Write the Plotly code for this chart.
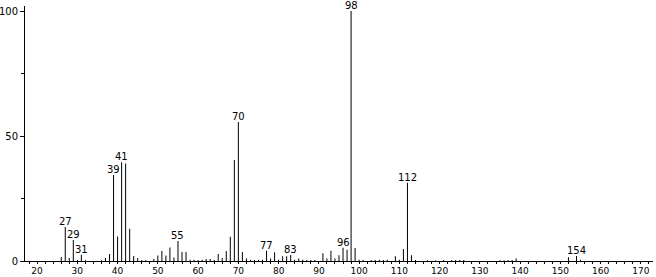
import plotly.graph_objects as go

mz = [26, 27, 28, 29, 30, 31, 32, 36, 37, 38, 39, 40, 41, 42, 43, 44, 45, 46, 47, 49,
      50, 51, 52, 53, 54, 55, 56, 57, 58, 59, 60, 61, 62, 63, 64, 65, 66, 67, 68, 69,
      70, 71, 72, 73, 74, 75, 76, 77, 78, 79, 80, 81, 82, 83, 84, 85, 86, 87, 88, 89,
      91, 92, 93, 94, 95, 96, 97, 98, 99, 100, 101, 103, 104, 105, 106, 107, 109, 110,
      111, 112, 113, 114, 117, 119, 121, 123, 124, 125, 126, 135, 136, 137, 138, 139,
      152, 154, 155]
intensity = [1.6, 13.6, 1.2, 8.4, 0.4, 2.5, 0.3, 0.3, 1.2, 2.8, 34.4, 9.8, 39.5, 39.0, 12.9,
             2.0, 1.2, 0.4, 0.4, 0.8, 2.2, 4.0, 2.2, 5.4, 1.4, 8.0, 3.6, 3.6, 0.5, 0.5,
             0.4, 0.5, 0.8, 0.8, 0.4, 2.8, 1.2, 4.0, 9.7, 40.4, 55.6, 3.6, 1.0, 0.5, 0.4,
             0.5, 0.5, 4.1, 1.0, 3.5, 0.5, 1.9, 1.9, 2.4, 0.5, 1.0, 0.5, 0.4, 0.4, 0.4,
             3.1, 1.0, 4.1, 1.0, 2.3, 5.3, 4.5, 100.0, 5.2, 0.5, 0.4, 0.4, 0.4, 0.5, 0.4,
             0.5, 1.9, 0.5, 4.8, 31.3, 2.3, 0.4, 0.3, 0.3, 0.4, 0.4, 0.4, 0.4, 0.4, 0.3,
             0.3, 0.4, 0.4, 1.0, 1.5, 2.0, 0.5]
labeled_peaks = [27, 29, 31, 39, 41, 55, 70, 77, 83, 96, 98, 112, 154]

x_tick_vals = [20, 30, 40, 50, 60, 70, 80, 90, 100, 110, 120, 130, 140, 150, 160, 170]
y_tick_vals = [0, 50, 100]

xs, ys = [], []
for m, v in zip(mz, intensity):
    xs += [m, m, None]
    ys += [0, v, None]

fig = go.Figure()
fig.add_trace(go.Scatter(x=xs, y=ys, mode="lines",
                         line=dict(color="black", width=1), hoverinfo="skip",
                         showlegend=False))

lookup = dict(zip(mz, intensity))
for m in labeled_peaks:
    fig.add_annotation(x=m, y=lookup[m], text=str(m), showarrow=False,
                       yanchor="bottom", yshift=-1, borderpad=0,
                       font=dict(family="DejaVu Sans", size=10, color="black"))

fig.update_layout(
    width=656, height=277,
    margin=dict(l=25, r=3, t=6, b=16, autoexpand=False),
    plot_bgcolor="white", paper_bgcolor="white",
    font=dict(family="DejaVu Sans", size=9, color="black"),
)
fig.update_xaxes(range=[17.0, 173.0], showgrid=False, zeroline=False,
                 automargin=False,
                 showline=True, linecolor="black", linewidth=1,
                 tickmode="array", tickvals=x_tick_vals,
                 ticks="outside", ticklen=2, tickcolor="black",
                 ticklabelstandoff=-1,
                 minor=dict(dtick=2, ticks="outside", ticklen=2, tickcolor="black"),
                 tickfont=dict(size=9))
fig.update_yaxes(range=[0, 102], showgrid=False, zeroline=False,
                 automargin=False,
                 showline=True, linecolor="black", linewidth=1,
                 tickmode="array", tickvals=y_tick_vals,
                 ticks="outside", ticklen=4, tickcolor="black",
                 minor=dict(tickmode="array", tickvals=[25, 75], ticks="outside",
                            ticklen=3, tickcolor="black"),
                 tickfont=dict(size=10))

fig.write_html("out.html")
